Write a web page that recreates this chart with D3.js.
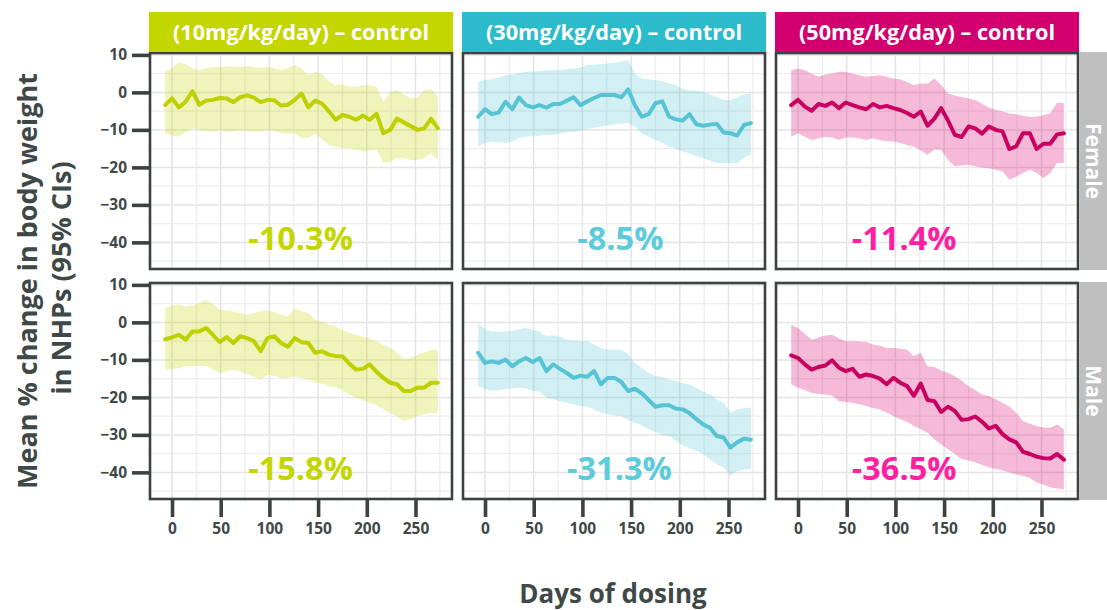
<!DOCTYPE html>
<html>
<head>
<meta charset="utf-8">
<script src="https://cdn.jsdelivr.net/npm/d3@7"></script>
<style>
  html, body { margin: 0; padding: 0; background: #ffffff; }
  svg { display: block; }
  text { font-family: "Open Sans", Lato, sans-serif; font-weight: bold; }
</style>
</head>
<body>
<svg id="chart" width="1107" height="610"></svg>
<script>
// ---------------- DATA ----------------
const days = [-7, 0, 7, 14, 21, 28, 35, 42, 49, 56, 63, 70, 77, 84, 91, 98, 105, 112, 119, 126, 133,
              140, 147, 154, 161, 168, 175, 182, 189, 196, 203, 210, 217, 224, 231, 238, 245, 252, 259, 266, 273];

const doseLabels = ["(10mg/kg/day) \u2013 control", "(30mg/kg/day) \u2013 control", "(50mg/kg/day) \u2013 control"];
const sexLabels = ["Female", "Male"];
const xTicks = [0, 50, 100, 150, 200, 250];
const yTicks = [10, 0, -10, -20, -30, -40];

// Female 10 mg/kg/day
const f10Mean = [-3.4, -1.6, -4.0, -2.5, 0.3, -3.3, -2.2, -2.0, -1.5, -1.6, -2.6, -1.3, -0.8, -1.4, -2.6, -2.0, -2.1, -3.5, -3.3, -2.0, -0.3,
                 -4.0, -2.2, -3.0, -5.0, -7.3, -6.0, -6.5, -7.3, -6.2, -7.3, -5.7, -10.9, -10.0, -7.0, -8.0, -9.0, -10.0, -9.6, -7.0, -9.6];
const f10Hi = [5.5, 6.5, 8.1, 7.5, 6.4, 6.0, 6.5, 6.8, 6.8, 7.0, 6.8, 6.8, 7.0, 6.8, 6.5, 6.8, 6.5, 6.0, 6.5, 7.3, 6.5,
               4.6, 5.5, 5.0, 3.0, 1.9, 2.2, 1.5, 1.5, 2.0, 1.9, 1.5, -2.5, 0.2, 0.5, -0.5, -1.6, -1.2, 0.6, 1.0, -1.2];
const f10Lo = [-10.9, -11.5, -11.8, -10.5, -9.6, -10.0, -10.2, -10.4, -10.0, -10.4, -10.4, -10.0, -10.2, -10.4, -10.4, -10.0, -10.2, -10.9, -11.0, -10.9, -12.2,
               -12.0, -11.0, -12.5, -14.0, -14.4, -14.8, -14.9, -15.2, -15.8, -15.5, -15.0, -18.8, -18.5, -17.5, -17.5, -18.0, -18.0, -17.5, -16.2, -18.0];

// Female 30 mg/kg/day
const f30Mean = [-6.5, -4.5, -5.8, -5.4, -2.5, -4.5, -1.4, -3.4, -4.0, -3.4, -4.1, -3.1, -3.1, -2.2, -1.3, -3.4, -2.4, -1.5, -0.7, -0.7, -0.7,
                 -1.3, 0.8, -3.5, -6.5, -5.8, -2.9, -2.4, -6.5, -7.2, -7.5, -5.8, -8.5, -8.9, -8.6, -8.4, -10.7, -10.9, -11.5, -8.7, -8.2];
const f30Hi = [2.8, 3.3, 3.5, 4.0, 4.6, 4.8, 5.2, 5.5, 5.6, 5.7, 5.9, 5.9, 6.0, 6.2, 6.4, 6.6, 7.3, 7.4, 7.5, 7.7, 8.0,
               8.2, 8.6, 5.0, 3.7, 3.5, 3.3, 3.0, 2.4, 1.9, 1.0, 0.6, 0.5, 0.2, -0.5, -1.2, -2.0, -2.0, -1.5, -0.5, -0.3];
const f30Lo = [-14.4, -13.5, -13.1, -13.3, -13.5, -13.0, -12.2, -11.8, -11.6, -11.5, -11.3, -11.3, -11.0, -10.6, -10.4, -10.2, -9.8, -9.4, -9.1, -8.8, -8.5,
               -8.2, -8.2, -9.1, -10.9, -11.8, -12.7, -13.4, -14.4, -15.0, -15.8, -16.3, -17.1, -17.5, -18.2, -18.8, -18.8, -18.8, -18.8, -17.5, -16.6];

// Female 50 mg/kg/day
const f50Mean = [-3.4, -2.0, -3.8, -4.9, -3.1, -3.6, -2.7, -4.2, -2.7, -3.4, -4.0, -4.5, -3.1, -4.0, -3.6, -4.2, -4.7, -5.5, -6.5, -5.1, -8.9,
                 -7.0, -4.2, -7.5, -11.3, -11.9, -9.1, -9.6, -11.0, -9.1, -10.0, -10.4, -15.1, -14.4, -10.9, -10.9, -15.1, -13.7, -13.7, -11.2, -10.9];
const f50Hi = [5.9, 6.4, 6.0, 5.0, 4.2, 4.8, 5.0, 5.5, 5.5, 5.0, 4.6, 4.2, 4.4, 4.6, 4.2, 3.7, 3.5, 2.8, 1.9, 2.4, 2.4,
               3.7, 2.0, -0.3, -0.8, -1.2, -1.6, -2.0, -3.0, -4.0, -4.7, -5.0, -5.6, -5.8, -6.2, -6.5, -6.5, -6.0, -5.6, -2.7, -2.9];
const f50Lo = [-11.8, -10.9, -11.8, -12.7, -12.2, -11.8, -12.0, -12.7, -12.0, -12.0, -12.2, -12.7, -12.2, -12.7, -13.0, -13.1, -13.5, -14.0, -14.4, -15.5, -16.6,
               -15.3, -15.3, -18.0, -19.7, -19.5, -19.3, -19.7, -20.0, -20.2, -20.6, -21.0, -23.3, -22.5, -21.5, -20.6, -21.5, -22.8, -21.5, -18.8, -18.8];

// Male 10 mg/kg/day
const m10Mean = [-4.5, -4.0, -3.3, -4.6, -2.4, -2.4, -1.5, -3.3, -5.3, -3.9, -5.5, -3.7, -4.2, -5.0, -7.7, -4.2, -3.7, -5.5, -6.5, -4.2, -5.3,
                 -5.5, -8.1, -7.7, -8.6, -9.0, -9.0, -11.0, -12.6, -12.4, -11.2, -13.2, -14.8, -16.1, -16.5, -18.3, -18.3, -17.4, -17.4, -16.1, -16.1];
const m10Hi = [3.8, 4.5, 4.7, 4.3, 4.5, 5.2, 6.0, 5.0, 3.4, 3.2, 2.9, 2.5, 2.0, 2.5, 2.9, 3.2, 2.8, 2.0, 1.6, 3.8, 3.0,
               2.5, 0.7, 0.2, -0.5, -1.1, -2.0, -2.8, -3.3, -3.8, -4.2, -5.0, -6.0, -6.8, -8.0, -9.9, -9.5, -8.6, -8.0, -7.3, -7.3];
const m10Lo = [-12.6, -12.4, -12.2, -11.7, -11.7, -11.5, -11.7, -12.5, -13.5, -13.0, -12.6, -13.0, -13.9, -14.5, -15.2, -14.0, -14.2, -14.8, -14.8, -14.5, -14.8,
               -15.2, -16.1, -16.3, -17.0, -17.3, -18.0, -19.2, -20.0, -20.8, -21.4, -22.0, -23.2, -24.0, -25.0, -26.3, -25.8, -25.0, -24.5, -24.1, -24.1];

// Male 30 mg/kg/day
const m30Mean = [-8.1, -10.8, -10.4, -10.8, -9.9, -11.7, -10.4, -9.5, -10.6, -9.5, -13.0, -11.2, -12.4, -13.5, -14.8, -14.2, -14.5, -13.0, -16.5, -14.8, -14.8,
                 -15.9, -18.3, -17.7, -18.9, -20.7, -22.5, -22.1, -22.1, -23.0, -23.2, -24.2, -25.8, -27.2, -28.1, -30.3, -30.7, -33.4, -32.0, -31.0, -31.3];
const m30Hi = [-0.2, -1.9, -2.4, -2.4, -2.4, -2.2, -1.8, -1.5, -2.0, -2.4, -3.7, -3.5, -3.8, -4.6, -4.8, -5.0, -5.0, -5.8, -6.8, -7.3, -7.3,
               -7.3, -8.5, -10.8, -12.0, -13.5, -14.3, -14.6, -15.2, -15.6, -16.2, -16.5, -17.5, -18.5, -19.2, -20.5, -21.4, -24.1, -23.2, -22.8, -22.7];
const m30Lo = [-17.0, -17.8, -18.3, -18.0, -17.8, -17.6, -17.4, -17.6, -18.3, -18.5, -20.1, -20.5, -21.0, -21.4, -21.8, -22.3, -22.5, -23.2, -24.1, -24.5, -24.8,
               -25.0, -26.0, -26.7, -27.5, -28.5, -29.2, -30.0, -30.3, -31.5, -32.9, -33.5, -34.3, -35.1, -36.5, -37.8, -38.7, -40.9, -39.6, -39.3, -39.1];

// Male 50 mg/kg/day
const m50Mean = [-8.8, -9.5, -11.2, -12.6, -11.9, -11.5, -10.1, -12.1, -13.0, -12.4, -14.5, -13.9, -14.3, -15.0, -16.5, -14.8, -16.1, -17.0, -19.6, -16.3, -20.7,
                 -21.0, -23.9, -22.5, -23.6, -26.0, -25.8, -25.1, -26.5, -28.3, -27.6, -29.8, -31.2, -32.0, -34.5, -35.1, -35.8, -36.2, -36.3, -35.1, -36.6];
const m50Hi = [-0.6, -1.5, -3.0, -4.6, -4.0, -3.5, -3.3, -4.2, -5.0, -5.0, -5.0, -5.2, -5.9, -6.2, -6.8, -6.8, -7.0, -7.3, -9.0, -8.1, -11.7,
               -11.9, -12.8, -13.5, -14.3, -15.5, -17.0, -18.0, -19.2, -19.6, -20.5, -21.4, -22.5, -24.1, -26.3, -27.0, -27.6, -28.0, -28.1, -27.2, -28.5];
const m50Lo = [-16.5, -17.4, -18.0, -18.8, -19.0, -19.2, -19.5, -21.0, -21.2, -21.4, -21.8, -22.3, -22.8, -23.2, -24.0, -25.0, -25.8, -26.5, -27.6, -28.5, -29.4,
               -31.2, -32.5, -33.8, -35.0, -36.5, -36.8, -37.3, -38.0, -38.6, -39.1, -39.5, -40.0, -40.5, -40.9, -41.5, -42.7, -43.2, -44.0, -44.3, -44.5];

// Annotated final differences (text, position in data units)
const noteTexts = [["-10.3%", "-8.5%", "-11.4%"], ["-15.8%", "-31.3%", "-36.5%"]];
const noteDays = [[132, 139, 109], [132, 138, 109]];
const noteY = -42;

// ---------------- STYLE ----------------
const doseColors = ["#c4d600", "#2bbbcb", "#d2006e"];
const lineColors = ["#bed000", "#56c4d4", "#c8005f"];
const ribbonColors = ["#c4d600", "#5ac6d6", "#d9006f"];
const noteColors = ["#c4d600", "#5ccbdb", "#ff1fa2"];
const textDark = "#3e4847";

const svg = d3.select("#chart");

const panelLeft = [150, 463, 776];
const panelW = 302;
const rowTop = [53, 283];
const panelH = 216;

const x = panelLeft.map(l => d3.scaleLinear().domain([-22.6, 287.5]).range([l, l + panelW]));
const y = rowTop.map(t => d3.scaleLinear().domain([-47.1, 10.5]).range([t + panelH, t]));

const series = [
  [[f10Mean, f10Lo, f10Hi], [f30Mean, f30Lo, f30Hi], [f50Mean, f50Lo, f50Hi]],
  [[m10Mean, m10Lo, m10Hi], [m30Mean, m30Lo, m30Hi], [m50Mean, m50Lo, m50Hi]]
];

const minorX = [-25, 25, 75, 125, 175, 225, 275];
const minorY = [5, -5, -15, -25, -35, -45];

for (let r = 0; r < 2; r++) {
  for (let c = 0; c < 3; c++) {
    const xs = x[c], ys = y[r];
    const g = svg.append("g");
    const clipId = `clip-${r}-${c}`;
    svg.append("clipPath").attr("id", clipId).append("rect")
      .attr("x", xs.range()[0]).attr("y", ys.range()[1])
      .attr("width", panelW).attr("height", panelH);
    const inner = g.append("g").attr("clip-path", `url(#${clipId})`);

    inner.append("rect").attr("x", xs.range()[0]).attr("y", ys.range()[1])
      .attr("width", panelW).attr("height", panelH).attr("fill", "#ffffff");

    // minor grid
    inner.selectAll(".mgx").data(minorX).join("line")
      .attr("x1", d => xs(d)).attr("x2", d => xs(d))
      .attr("y1", ys.range()[1]).attr("y2", ys.range()[0])
      .attr("stroke", "#eeeeee").attr("stroke-width", 1.3);
    inner.selectAll(".mgy").data(minorY).join("line")
      .attr("y1", d => ys(d)).attr("y2", d => ys(d))
      .attr("x1", xs.range()[0]).attr("x2", xs.range()[1])
      .attr("stroke", "#eeeeee").attr("stroke-width", 1.3);
    // major grid
    inner.selectAll(".gx").data(xTicks).join("line")
      .attr("x1", d => xs(d)).attr("x2", d => xs(d))
      .attr("y1", ys.range()[1]).attr("y2", ys.range()[0])
      .attr("stroke", "#e4e4e4").attr("stroke-width", 1.5);
    inner.selectAll(".gy").data(yTicks).join("line")
      .attr("y1", d => ys(d)).attr("y2", d => ys(d))
      .attr("x1", xs.range()[0]).attr("x2", xs.range()[1])
      .attr("stroke", "#e4e4e4").attr("stroke-width", 1.5);

    const [mean, lo, hi] = series[r][c];
    const pts = days.map((d, i) => ({ d, m: mean[i], lo: lo[i], hi: hi[i] }));

    inner.append("path").datum(pts)
      .attr("d", d3.area().x(p => xs(p.d)).y0(p => ys(p.lo)).y1(p => ys(p.hi)))
      .attr("fill", ribbonColors[c]).attr("fill-opacity", 0.27);

    inner.append("path").datum(pts)
      .attr("d", d3.line().x(p => xs(p.d)).y(p => ys(p.m)))
      .attr("fill", "none").attr("stroke", lineColors[c])
      .attr("stroke-width", 4).attr("stroke-linejoin", "round").attr("stroke-linecap", "round");

    // annotation
    g.append("text")
      .attr("x", xs(noteDays[r][c])).attr("y", ys(noteY))
      .attr("text-anchor", "middle")
      .attr("font-size", 32.5)
      .attr("fill", noteColors[c])
      .text(noteTexts[r][c]);

    // border
    g.append("rect").attr("x", xs.range()[0]).attr("y", ys.range()[1])
      .attr("width", panelW).attr("height", panelH)
      .attr("fill", "none").attr("stroke", "#3c4242").attr("stroke-width", 2.6);

    // y axis on left column
    if (c === 0) {
      const ya = svg.append("g").attr("transform", `translate(${xs.range()[0] - 1},0)`)
        .call(d3.axisLeft(ys).tickValues(yTicks).tickSize(17).tickPadding(5).tickFormat(d3.format("d")));
      ya.select(".domain").remove();
      ya.selectAll(".tick line").attr("stroke", "#3c4242").attr("stroke-width", 3.6);
      ya.selectAll(".tick text").attr("fill", textDark).attr("font-size", 15.5)
        .attr("font-family", "'Open Sans', sans-serif").attr("font-weight", "bold");
    }
    // x axis on bottom row
    if (r === 1) {
      const xa = svg.append("g").attr("transform", `translate(0,${ys.range()[0] + 1})`)
        .call(d3.axisBottom(xs).tickValues(xTicks).tickSize(17).tickPadding(6).tickFormat(d3.format("d")));
      xa.select(".domain").remove();
      xa.selectAll(".tick line").attr("stroke", "#3c4242").attr("stroke-width", 3.6);
      xa.selectAll(".tick text").attr("fill", textDark).attr("font-size", 15.5)
        .attr("font-family", "'Open Sans', sans-serif").attr("font-weight", "bold");
    }
  }
}

// top strips
for (let c = 0; c < 3; c++) {
  const l = x[c].range()[0];
  svg.append("rect").attr("x", l - 1).attr("y", 12).attr("width", panelW + 2).attr("height", 40)
    .attr("fill", doseColors[c]);
  svg.append("text").attr("x", l + panelW / 2).attr("y", 39.5)
    .attr("text-anchor", "middle").attr("fill", "#ffffff").attr("font-size", 21.7)
    .text(doseLabels[c]);
}

// right strips
for (let r = 0; r < 2; r++) {
  const t = y[r].range()[1];
  const left = x[2].range()[1] + 1.5;
  svg.append("rect").attr("x", left).attr("y", t - 1).attr("width", 1107 - left).attr("height", panelH + 2)
    .attr("fill", "#bfbfbf");
  const cx = left + (1107 - left) / 2;
  const cy = t + panelH / 2;
  svg.append("text").attr("transform", `translate(${cx},${cy}) rotate(90)`)
    .attr("text-anchor", "middle").attr("dy", "0.35em")
    .attr("fill", "#ffffff").attr("font-size", 21)
    .text(sexLabels[r]);
}

// axis titles
svg.append("text").attr("transform", "translate(37,281) rotate(-90)")
  .attr("text-anchor", "middle").attr("fill", textDark).attr("font-size", 27)
  .text("Mean % change in body weight");
svg.append("text").attr("transform", "translate(71,278) rotate(-90)")
  .attr("text-anchor", "middle").attr("fill", textDark).attr("font-size", 27)
  .text("in NHPs (95% CIs)");

svg.append("text").attr("x", 613).attr("y", 603)
  .attr("text-anchor", "middle").attr("fill", textDark).attr("font-size", 26)
  .text("Days of dosing");
</script>
</body>
</html>
